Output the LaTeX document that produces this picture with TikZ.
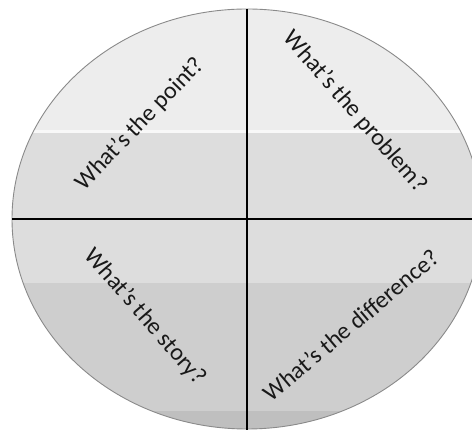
\documentclass[tikz,border=0pt]{standalone}
\usepackage{fontspec}
\setmainfont{Carlito}
\definecolor{bandA}{HTML}{EDEDED}
\definecolor{bandB}{HTML}{DDDDDD}
\definecolor{bandC}{HTML}{CECECE}
\definecolor{bandD}{HTML}{BFBFBF}
\definecolor{rimgray}{HTML}{8A8A8A}
\tikzset{
  qlabel/.style={font=\fontsize{24}{26}\selectfont, text=black!90, inner sep=0pt},
  crossline/.style={draw=black, line width=1.4pt},
}
\begin{document}
\begin{tikzpicture}[x=1pt,y=1pt]
\useasboundingbox (0,0) rectangle (472,430);
\begin{scope}
  \clip (247,211) ellipse [x radius=235, y radius=210];
  \fill[bandA] (0,298) rectangle (490,430);
  \fill[white!60!bandA] (0,297) rectangle (490,300);
  \fill[bandB] (0,147) rectangle (490,297);
  \fill[bandC] (0,19) rectangle (490,147);
  \fill[bandD] (0,0) rectangle (490,19);
\end{scope}
\draw[rimgray, line width=0.9pt] (247,211) ellipse [x radius=235, y radius=210];
\coordinate (top) at (247,421);
\coordinate (bottom) at (247,0);
\coordinate (left) at (12,211);
\coordinate (right) at (472,211);
\draw[crossline] (top) -- (bottom);
\draw[crossline] (left) -- (right);
\node[qlabel, rotate=46] (point) at (140,306) {What’s the point?};
\node[qlabel, rotate=-49] (problem) at (355,318) {What’s the problem?};
\node[qlabel, rotate=-49] (story) at (145,113) {What’s the story?};
\node[qlabel, rotate=40] (difference) at (351,105) {What’s the difference?};
\end{tikzpicture}
\end{document}
